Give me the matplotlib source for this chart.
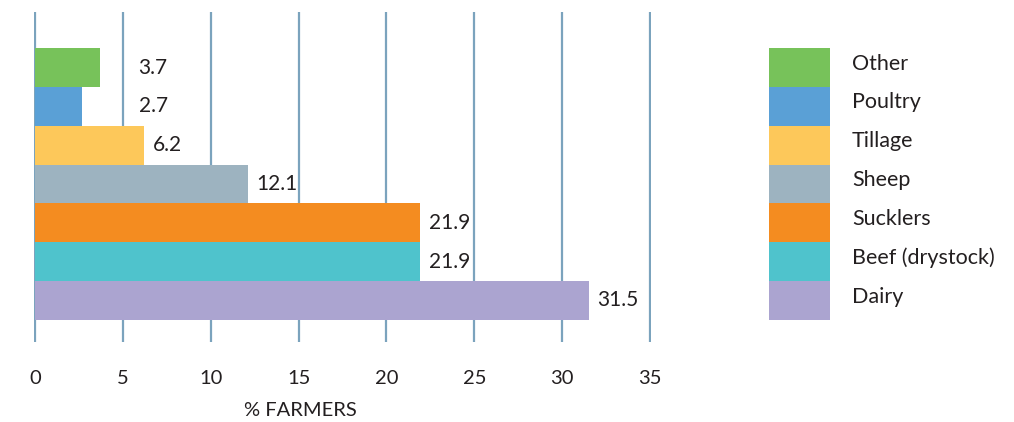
import matplotlib
matplotlib.use("Agg")
import matplotlib.pyplot as plt

plt.rcParams['font.family'] = ['Lato', 'DejaVu Sans']
plt.rcParams['text.color'] = '#231f20'

## data, top bar first
sectors = ['Other', 'Poultry', 'Tillage', 'Sheep', 'Sucklers', 'Beef (drystock)', 'Dairy']
pct_farmers = [3.7, 2.7, 6.2, 12.1, 21.9, 21.9, 31.5]
colors = ['#77c25a', '#5aa0d6', '#fdc85a', '#9db3c0', '#f48c20', '#4fc3cc', '#aba4d0']
xticks = [0, 5, 10, 15, 20, 25, 30, 35]

fig = plt.figure(figsize=(10.14, 4.22), dpi=100)
ax = fig.add_axes([34 / 1014, 80 / 422, 617 / 1014, 330 / 422])

n = len(sectors)
ypos = [n - 1 - i for i in range(n)]
ax.barh(ypos, pct_farmers, height=1.0, color=colors, zorder=2)

# value labels to the right of each bar
for y, v in zip(ypos, pct_farmers):
    ax.text(max(v, 5.4) + 0.5, y, f'{v}', va='center', ha='left', fontsize=15, zorder=3)

ax.set_xlim(-0.05, 35.05)
ax.set_ylim(-1.07, n - 0.5 + 0.93)
ax.set_xticks(xticks)
ax.set_yticks([])
ax.grid(axis='x', color='#7ba3bd', linewidth=1.6, zorder=1)
ax.set_axisbelow(True)
for s in ax.spines.values():
    s.set_visible(False)
ax.tick_params(axis='x', length=0, pad=20, labelsize=14.5, labelcolor='#231f20')

fig.text(300 / 1014, 1 - 410 / 422, '% FARMERS', ha='center', va='center', fontsize=14.5)

## legend on the right: colour blocks stacked with no gap
lax = fig.add_axes([769 / 1014, (422 - 320) / 422, 61 / 1014, 272 / 422])
lax.barh(ypos, [1] * n, height=1.0, left=0, color=colors)
lax.set_xlim(0, 1)
lax.set_ylim(-0.5, n - 0.5)
lax.axis('off')
for y, name in zip(ypos, sectors):
    lax.text(1.36, y + 0.1, name, va='center', ha='left', fontsize=15.5, clip_on=False)

fig.savefig('out.png', dpi=100)
